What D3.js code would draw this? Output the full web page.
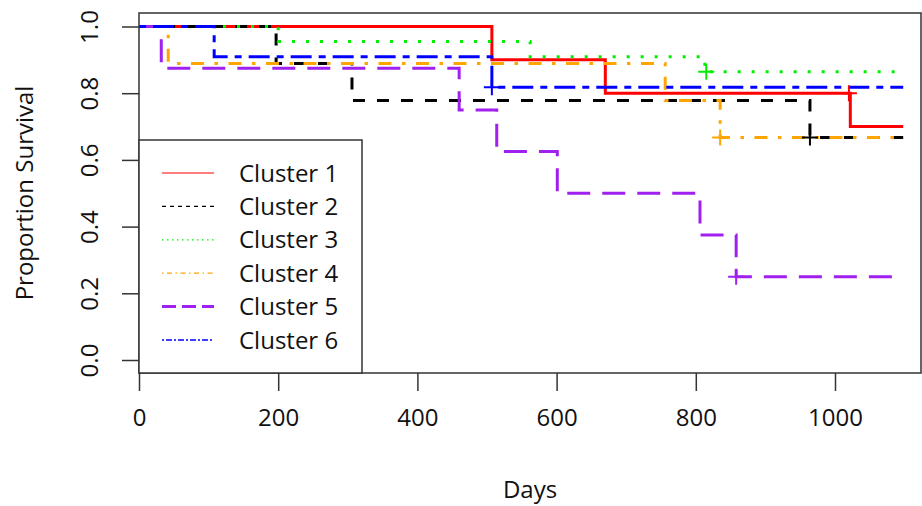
<!DOCTYPE html>
<meta charset="utf-8">
<html>
<head>
    <script src="https://d3js.org/d3.v7.js"></script>
    <style>
        body { margin: 0; background: #fff; }
        text { font-family: "Open Sans", sans-serif; fill: #111; }
    </style>
</head>
<body>
<script>
    // Kaplan-Meier steps (days, proportion surviving)
    var clusterNames = ["Cluster 1", "Cluster 2", "Cluster 3", "Cluster 4", "Cluster 5", "Cluster 6"];
    var clusterColors = ["#ff0000", "#000000", "#00ee00", "#ffa500", "#a020f0", "#0000ff"];

    var c1Times = [0, 507, 670, 1022];
    var c1Surv  = [1, 0.9, 0.8, 0.7];
    var c1Cens  = [1020];

    var c2Times = [0, 197, 306, 964];
    var c2Surv  = [1, 0.889, 0.778, 0.667];
    var c2Cens  = [964];

    var c3Times = [0, 200, 562, 813];
    var c3Surv  = [1, 0.955, 0.909, 0.864];
    var c3Cens  = [815];

    var c4Times = [0, 42, 756, 835];
    var c4Surv  = [1, 0.889, 0.778, 0.667];
    var c4Cens  = [835];

    var c5Times = [0, 32, 460, 514, 601, 806, 858];
    var c5Surv  = [1, 0.875, 0.75, 0.625, 0.5, 0.375, 0.25];
    var c5Cens  = [858];

    var c6Times = [0, 108, 507];
    var c6Surv  = [1, 0.909, 0.818];
    var c6Cens  = [507];

    var lastDay = 1098;
    var xTicks = [0, 200, 400, 600, 800, 1000];
    var yTicks = [0, 0.2, 0.4, 0.6, 0.8, 1.0];

    var allTimes = [c1Times, c2Times, c3Times, c4Times, c5Times, c6Times];
    var allSurv = [c1Surv, c2Surv, c3Surv, c4Surv, c5Surv, c6Surv];
    var allCens = [c1Cens, c2Cens, c3Cens, c4Cens, c5Cens, c6Cens];

    // line styles (R lty patterns scaled by line width)
    var curveDash = ["none", "12,12", "3,11", "3.5,10.5,13,10.5", "23,12", "7,7,21,7"];
    var legendDash = ["none", "4,4", "1.5,3.5", "1.5,3.5,5,3.5", "14,6", "2,2,6,2"];
    var legendWidth = [1.2, 1.2, 1.2, 1.2, 3, 1.5];

    let width = 922, height = 506;
    var box = {left: 139, right: 921, top: 13, bottom: 373};

    var svg = d3.select("body").append("svg")
        .attr("width", width)
        .attr("height", height);

    var x = d3.scaleLinear()
        .domain([0, 1000])
        .range([139, 835]);

    var y = d3.scaleLinear()
        .domain([0, 1])
        .range([360, 26.5]);

    // axes
    var xAxis = d3.axisBottom(x)
        .tickValues(xTicks)
        .tickSize(18)
        .tickPadding(18)
        .tickFormat(d3.format("d"));

    var gx = svg.append("g")
        .attr("transform", "translate(0," + box.bottom + ")")
        .call(xAxis);
    gx.select(".domain").remove();
    gx.selectAll("line").attr("stroke", "#333").attr("stroke-width", 1.5);
    gx.selectAll("text").attr("font-size", 24).attr("fill", "#111");

    var yAxis = d3.axisLeft(y)
        .tickValues(yTicks)
        .tickSize(17)
        .tickFormat(d3.format(".1f"));

    var gy = svg.append("g")
        .attr("transform", "translate(" + box.left + ",0)")
        .call(yAxis);
    gy.select(".domain").remove();
    gy.selectAll("line").attr("stroke", "#333").attr("stroke-width", 1.5);
    gy.selectAll("text")
        .attr("font-size", 24)
        .attr("fill", "#111")
        .attr("text-anchor", "middle")
        .attr("x", null)
        .attr("dy", null)
        .attr("transform", "translate(-41,0) rotate(-90)");

    svg.append("text")
        .attr("transform", "translate(33," + ((box.top + box.bottom) / 2) + ") rotate(-90)")
        .attr("text-anchor", "middle")
        .attr("font-size", 24)
        .text("Proportion Survival");

    svg.append("text")
        .attr("x", (box.left + box.right) / 2)
        .attr("y", 498)
        .attr("text-anchor", "middle")
        .attr("font-size", 24)
        .text("Days");

    // survival curves
    var line = d3.line()
        .curve(d3.curveStepAfter)
        .x(function(d) { return x(d[0]); })
        .y(function(d) { return y(d[1]); });

    var curves = svg.append("g");
    clusterNames.forEach(function(name, i) {
        var pts = allTimes[i].map(function(t, j) { return [t, allSurv[i][j]]; });
        pts.push([lastDay, allSurv[i][allSurv[i].length - 1]]);
        curves.append("path")
            .datum(pts)
            .attr("fill", "none")
            .attr("stroke", clusterColors[i])
            .attr("stroke-width", 3)
            .attr("stroke-dasharray", curveDash[i])
            .attr("d", line);
    });

    // censoring marks
    clusterNames.forEach(function(name, i) {
        allCens[i].forEach(function(t) {
            var k = d3.bisectRight(allTimes[i], t) - 1;
            var cx = x(t), cy = y(allSurv[i][k]);
            curves.append("path")
                .attr("d", "M" + (cx - 8) + "," + cy + "H" + (cx + 8) + "M" + cx + "," + (cy - 8) + "V" + (cy + 8))
                .attr("stroke", clusterColors[i])
                .attr("stroke-width", 2)
                .attr("fill", "none");
        });
    });

    // plot frame
    svg.append("rect")
        .attr("x", box.left)
        .attr("y", box.top)
        .attr("width", box.right - box.left)
        .attr("height", box.bottom - box.top)
        .attr("fill", "none")
        .attr("stroke", "#333")
        .attr("stroke-width", 1.5);

    // legend
    var legend = svg.append("g");
    legend.append("rect")
        .attr("x", box.left)
        .attr("y", 140)
        .attr("width", 362 - box.left)
        .attr("height", box.bottom - 140)
        .attr("fill", "#fff")
        .attr("stroke", "#333")
        .attr("stroke-width", 1.5);

    var rowY = d3.scalePoint()
        .domain(clusterNames)
        .range([173, 340]);

    clusterNames.forEach(function(name, i) {
        legend.append("line")
            .attr("x1", 162)
            .attr("x2", 214)
            .attr("y1", rowY(name))
            .attr("y2", rowY(name))
            .attr("stroke", clusterColors[i])
            .attr("stroke-width", legendWidth[i])
            .attr("stroke-dasharray", legendDash[i]);
        legend.append("text")
            .attr("x", 239)
            .attr("y", rowY(name))
            .attr("dy", "0.36em")
            .attr("font-size", 24)
            .text(name);
    });
</script>
</body>
</html>
